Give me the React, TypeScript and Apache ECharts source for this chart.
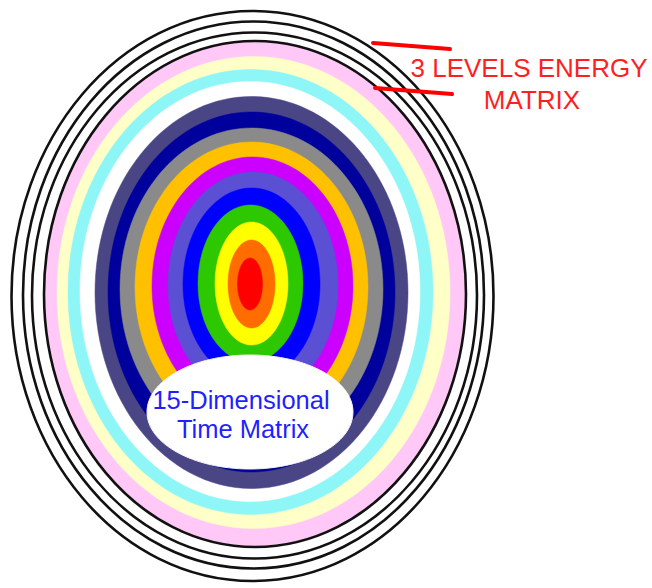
import React, { useEffect, useRef } from "react";
import * as echarts from "echarts";

// Concentric rings of the "15-dimensional time matrix" (outer to inner)
const ringNames = ["pink", "cream", "cyan", "white", "indigo", "navy", "gray", "gold", "violet", "slate", "blue", "green", "yellow", "orange", "red"];
const ringColors = ["#ffc8f6", "#ffffc8", "#8ef6f6", "#ffffff", "#4a4585", "#00009c", "#8a8a8a", "#ffc000", "#cc00ff", "#5b4fd4", "#0000ff", "#2ec800", "#ffff00", "#ff6c00", "#ff0000"];
const ringCenterX = [255, 253.5, 250.5, 250, 251.5, 251.5, 251.5, 251.5, 252.5, 253, 251.5, 250.5, 251.5, 251.5, 250];
const ringCenterY = [294, 292.5, 292, 291.5, 292.5, 292, 289, 287, 286, 285, 284, 283.5, 283.5, 284, 284];
const ringHalfWidth = [211, 196.5, 182.5, 170, 156.5, 143.5, 131.5, 116.5, 100.5, 85, 68.5, 52.5, 36.5, 23.5, 12.5];
const ringHalfHeight = [253, 236, 222.5, 210, 196, 180, 161, 145, 129, 113, 96, 78.5, 61.5, 44, 26];

// Black outline rings (the 3 levels energy matrix), outer to inner
const outlineCenterX = [252.5, 253.5, 254.5];
const outlineCenterY = [296, 295, 295.5];
const outlineHalfWidth = [241, 230.5, 222.5];
const outlineHalfHeight = [285, 273.5, 263];

// Label plate
const plateCenterX = [250];
const plateCenterY = [412];
const plateHalfWidth = [103];
const plateHalfHeight = [57];

// Red pointer strokes
const pointerStartX = [373, 375];
const pointerStartY = [43, 88];
const pointerEndX = [450, 452];
const pointerEndY = [49, 94];

const topLabelLines = ["3 LEVELS ENERGY", "MATRIX"];
const centerLabelLines = ["15-Dimensional", "Time Matrix"];

export default function App() {
  const ref = useRef<HTMLDivElement>(null);

  useEffect(() => {
    if (!ref.current) return;
    const chart = echarts.init(ref.current, undefined, { renderer: "svg" });

    const outlineData = outlineCenterX.map((cx, i) => [cx, outlineCenterY[i], outlineHalfWidth[i], outlineHalfHeight[i]]);
    const ringData = ringNames.map((_, i) => [ringCenterX[i], ringCenterY[i], ringHalfWidth[i], ringHalfHeight[i]]);
    const plateData = plateCenterX.map((cx, i) => [cx, plateCenterY[i], plateHalfWidth[i], plateHalfHeight[i]]);

    const ellipseRenderer = (styleFor: (i: number) => any) => (params: any, api: any) => {
      const c = api.coord([api.value(0), api.value(1)]);
      const s = api.size([api.value(2), api.value(3)]);
      return {
        type: "ellipse",
        shape: { cx: c[0], cy: c[1], rx: Math.abs(s[0]), ry: Math.abs(s[1]) },
        style: styleFor(params.dataIndex),
      };
    };

    const pointerSeries = pointerStartX.map((sx, i) => ({
      type: "line",
      data: [
        [sx, pointerStartY[i]],
        [pointerEndX[i], pointerEndY[i]],
      ],
      symbol: "none",
      lineStyle: { color: "#ff0000", width: 4, cap: "round" },
      silent: true,
      z: 5,
    }));

    const font = (size: number) => `${size}px 'Liberation Sans', Arial, sans-serif`;

    chart.setOption({
      animation: false,
      backgroundColor: "#ffffff",
      grid: { left: 0, right: 0, top: 0, bottom: 0 },
      xAxis: { type: "value", min: 0, max: 652, show: false },
      yAxis: { type: "value", min: 0, max: 588, inverse: true, show: false },
      series: [
        {
          type: "custom",
          name: "outlines",
          clip: false,
          data: outlineData,
          encode: { x: 0, y: 1 },
          renderItem: ellipseRenderer(() => ({ fill: "#ffffff", stroke: "#111111", lineWidth: 2.6 })),
          z: 1,
        },
        {
          type: "custom",
          name: "rings",
          clip: false,
          data: ringData,
          encode: { x: 0, y: 1 },
          renderItem: ellipseRenderer((i) => ({
            fill: ringColors[i],
            stroke: i === 0 ? "#111111" : ringColors[i],
            lineWidth: i === 0 ? 2.6 : 0.5,
          })),
          z: 2,
        },
        {
          type: "custom",
          name: "plate",
          clip: false,
          data: plateData,
          encode: { x: 0, y: 1 },
          renderItem: ellipseRenderer(() => ({ fill: "#ffffff", stroke: "#f4f4f4", lineWidth: 1 })),
          z: 3,
        },
        ...pointerSeries,
      ],
      graphic: [
        {
          type: "text",
          x: 529,
          y: 68,
          z: 10,
          style: { text: topLabelLines[0], fill: "#ff1f1f", font: font(26), align: "center", verticalAlign: "middle" },
        },
        {
          type: "text",
          x: 532,
          y: 100,
          z: 10,
          style: { text: topLabelLines[1], fill: "#ff1f1f", font: font(26), align: "center", verticalAlign: "middle" },
        },
        {
          type: "text",
          x: 241,
          y: 400,
          z: 10,
          style: { text: centerLabelLines[0], fill: "#1f1fff", font: font(25.5), align: "center", verticalAlign: "middle" },
        },
        {
          type: "text",
          x: 243,
          y: 429,
          z: 10,
          style: { text: centerLabelLines[1], fill: "#1f1fff", font: font(25.5), align: "center", verticalAlign: "middle" },
        },
      ],
    });

    return () => chart.dispose();
  }, []);

  return (
    <div
      ref={ref}
      style={{ position: "absolute", left: 0, top: 0, width: "652px", height: "588px", background: "#ffffff" }}
    />
  );
}
